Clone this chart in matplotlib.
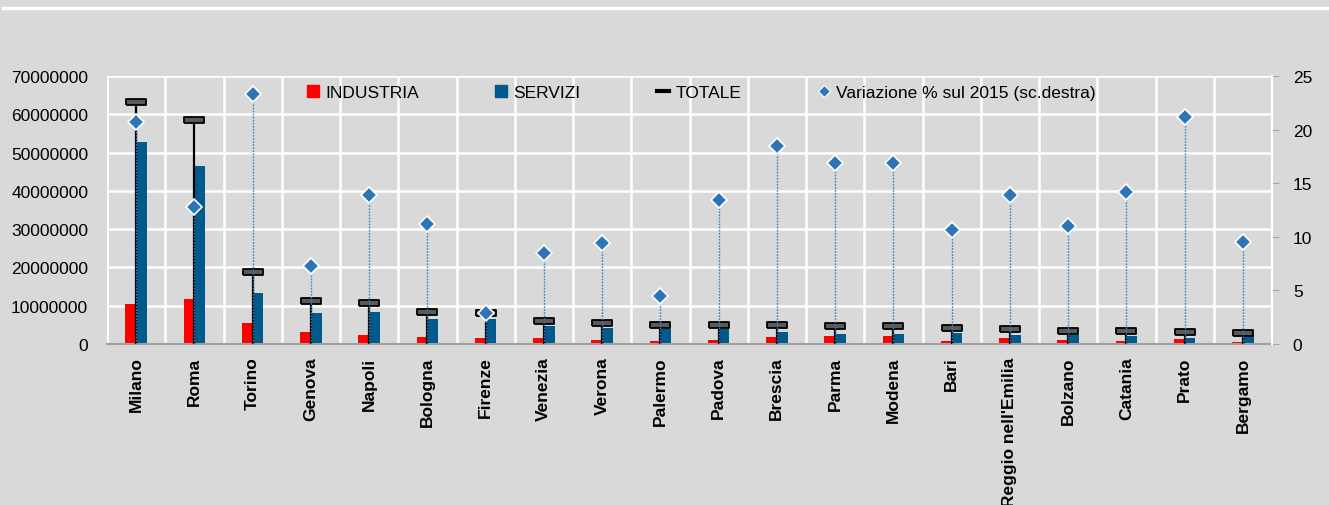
import numpy as np
import matplotlib
matplotlib.use('Agg')
import matplotlib.pyplot as plt
from matplotlib.lines import Line2D
from matplotlib.ticker import MultipleLocator, FuncFormatter

plt.rcParams['font.family'] = ['Liberation Sans', 'DejaVu Sans']

# data
cities = ['Milano', 'Roma', 'Torino', 'Genova', 'Napoli', 'Bologna', 'Firenze',
          'Venezia', 'Verona', 'Palermo', 'Padova', 'Brescia', 'Parma', 'Modena',
          'Bari', "Reggio nell'Emilia", 'Bolzano', 'Catania', 'Prato', 'Bergamo']
industria = [10.4, 11.8, 5.5, 3.1, 2.3, 1.8, 1.5, 1.5, 1.0, 0.9,
             1.0, 1.8, 2.1, 2.0, 0.8, 1.6, 1.0, 0.9, 1.3, 0.6]
servizi = [52.8, 46.5, 13.2, 8.1, 8.3, 6.6, 6.5, 4.6, 4.2, 4.0,
           4.0, 3.2, 2.6, 2.6, 3.0, 2.3, 2.3, 2.2, 1.6, 2.3]
totale = [63.3, 58.4, 18.7, 11.3, 10.7, 8.4, 8.0, 6.1, 5.4, 5.0,
          5.0, 5.0, 4.8, 4.7, 4.2, 3.8, 3.3, 3.3, 3.1, 2.9]
variazione = [20.7, 12.75, 23.35, 7.3, 13.9, 11.2, 2.86, 8.5, 9.4, 4.45,
              13.4, 18.5, 16.9, 16.9, 10.6, 13.9, 11.0, 14.15, 21.15, 9.5]

industria = np.array(industria) * 1e6
servizi = np.array(servizi) * 1e6
totale = np.array(totale) * 1e6

BG = '#d9d9d9'
RED = '#ff0000'
BLUE = '#005a8c'
DIAM = '#2e75b6'

fig = plt.figure(figsize=(13.29, 5.06), dpi=100, facecolor=BG)
ax = fig.add_axes([107/1329, 1 - 345/506, (1272-107)/1329, (345-77)/506])
ax.set_facecolor(BG)
ax2 = ax.twinx()

x = np.arange(len(cities))
w = 0.185

ax.bar(x - w/2, industria, w, color=RED, zorder=2)
ax.bar(x + w/2, servizi, w, color=BLUE, zorder=2)

# black line from total down to zero
ax.vlines(x, 0, totale, color='black', lw=1.6, zorder=3)

# total marker: flat rectangle
rect = [(-1, -0.3), (1, -0.3), (1, 0.3), (-1, 0.3), (-1, -0.3)]
ax.plot(x, totale, ls='none', marker=rect, markersize=15,
        markerfacecolor='#5a5a5a', markeredgecolor='black', mew=1.3, zorder=4)

# right axis: variation with dotted drop lines
ax2.vlines(x, 0, variazione, color='#3a80c4', lw=1.0, linestyles=(0, (1.2, 1.0)), zorder=3)
ax2.plot(x, variazione, ls='none', marker='D', markersize=8.5,
         markerfacecolor=DIAM, markeredgecolor='white', mew=1.2, zorder=5)

ax.set_xlim(-0.5, len(cities) - 0.5)
ax.set_ylim(0, 70e6)
ax2.set_ylim(0, 25)
ax.yaxis.set_major_locator(MultipleLocator(10e6))
ax.yaxis.set_major_formatter(FuncFormatter(lambda v, p: '%d' % v))
ax2.yaxis.set_major_locator(MultipleLocator(5))

# white grid: horizontal at ticks, vertical at category boundaries
for yv in np.arange(10e6, 70e6 + 1, 10e6):
    ax.axhline(yv, color='white', lw=1.8, zorder=1)
for xv in np.arange(-0.5, len(cities), 1.0):
    ax.axvline(xv, color='white', lw=1.8, zorder=1)

ax.set_xticks(x)
ax.set_xticklabels(cities, rotation=90, fontsize=12.5, fontweight='bold',
                   va='top', ha='center')
ax.tick_params(axis='x', length=0, pad=9)
ax.tick_params(axis='y', length=0, labelsize=12.5, pad=13.5)
ax2.tick_params(axis='y', length=5, color='#a6a6a6', labelsize=12.5, pad=10)

for a in (ax, ax2):
    for s in a.spines.values():
        s.set_visible(False)
ax.spines['bottom'].set_visible(True)
ax.spines['bottom'].set_color('#a0a0a0')
ax.spines['bottom'].set_linewidth(1.5)
ax2.spines['right'].set_visible(True)
ax2.spines['right'].set_color('white')
ax2.spines['right'].set_linewidth(1.5)
ax.set_zorder(ax2.get_zorder() - 1)
ax2.patch.set_visible(False)

handles = [
    Line2D([], [], ls='none', marker='s', markersize=8.5, color=RED),
    Line2D([], [], ls='none', marker='s', markersize=8.5, color=BLUE),
    Line2D([], [], ls='-', lw=3, color='black'),
    Line2D([], [], ls='none', marker='D', markersize=6, color=DIAM,
           markeredgecolor='white', mew=0.8),
]
labels = ['INDUSTRIA', 'SERVIZI', 'TOTALE', 'Variazione % sul 2015 (sc.destra)']
leg = ax2.legend(handles, labels, ncol=4, loc='center left',
                 bbox_to_anchor=(307/1329, 1 - 93/506), bbox_transform=fig.transFigure,
                 frameon=False, fontsize=12.5, handlelength=0.7, handletextpad=0.35,
                 columnspacing=4.4, borderpad=0, borderaxespad=0)

# white rule across the top
fig.add_artist(Line2D([3/1329, 1], [1 - 8.5/506, 1 - 8.5/506], transform=fig.transFigure,
                      color='white', lw=2.5))

fig.savefig('out.png', dpi=100, facecolor=BG)
